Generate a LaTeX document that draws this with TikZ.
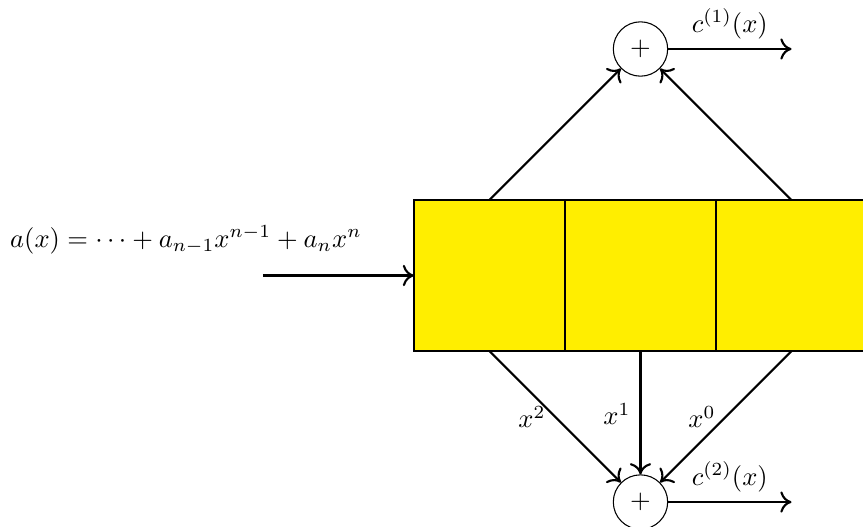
\documentclass[tikz,border=0pt]{standalone}
\usetikzlibrary{arrows.meta}
\definecolor{cellyellow}{RGB}{255,238,0}
\begin{document}
\begin{tikzpicture}[
  cell/.style={draw=black, thin, fill=cellyellow, minimum width=2cm, minimum height=2cm, inner sep=0pt, outer sep=0pt},
  adder/.style={draw, thin, circle, minimum size=0.72cm, inner sep=0pt},
  conn/.style={thick, -{To[length=4.2pt,width=8pt]}}
]
\useasboundingbox (-5.483,-2.318) rectangle (5.947,4.649);
\node[cell] (c1) at (1,1) {};
\node[cell] (c2) at (3,1) {};
\node[cell] (c3) at (5,1) {};
\draw[semithick] (c1.north east) -- (c1.south east);
\draw[semithick] (c2.north east) -- (c2.south east);
\node[adder] (top) at (3,4) {$+$};
\node[adder] (bot) at (3,-2) {$+$};
\coordinate (in) at (-2,1);
\coordinate (out1) at (5,4);
\coordinate (out2) at (5,-2);
\draw[conn] (in) -- (c1.west);
\draw[conn] (c1.north) -- (top);
\draw[conn] (c3.north) -- (top);
\draw[conn] (c1.south) -- (bot);
\draw[conn] (c2.south) -- (bot);
\draw[conn] (c3.south) -- (bot);
\draw[conn] (top) -- node[above] (l1) {$c^{(1)}(x)$} (out1);
\draw[conn] (bot) -- node[above] (l2) {$c^{(2)}(x)$} (out2);
\node (ax) at (-3.02,1.47) {$a(x) = \cdots + a_{n-1}x^{n-1} + a_nx^n$};
\node (x2) at (1.563,-0.874) {$x^2$};
\node (x1) at (2.689,-0.834) {$x^1$};
\node (x0) at (3.815,-0.874) {$x^0$};
\end{tikzpicture}
\end{document}
